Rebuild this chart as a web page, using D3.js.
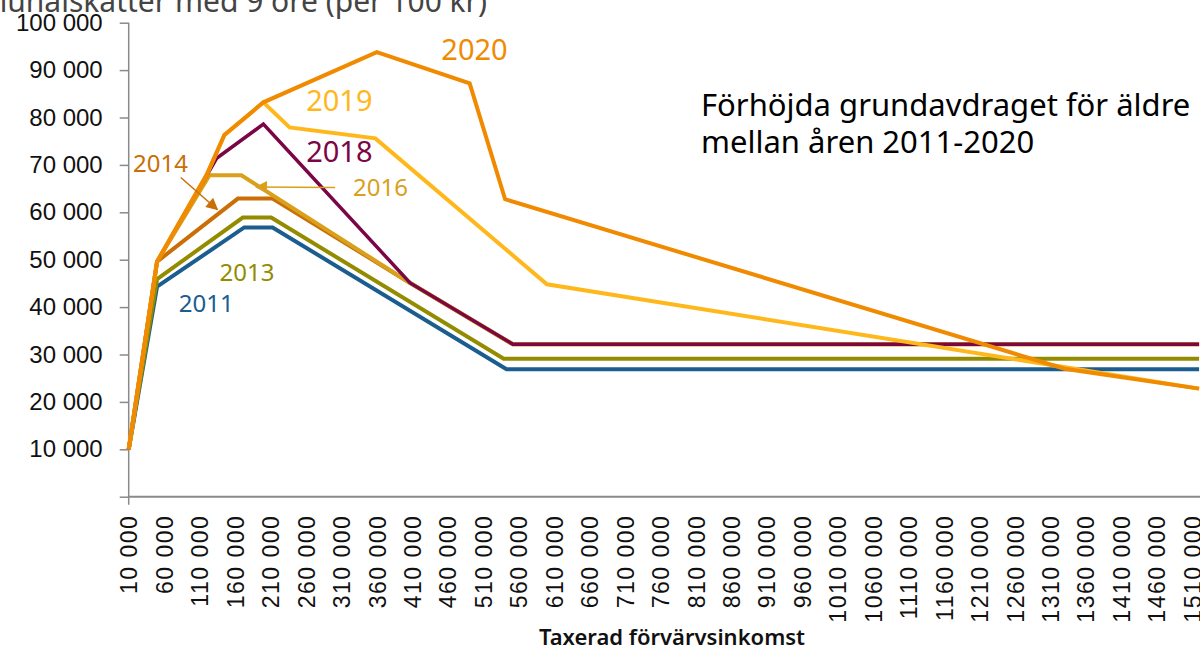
<!DOCTYPE html>
<html>
<head>
<meta charset="utf-8">
<script src="https://cdn.jsdelivr.net/npm/d3@7"></script>
<style>
  body { margin: 0; background: #fff; }
  svg { display: block; font-family: "Noto Sans", sans-serif; }
</style>
</head>
<body>
<script>
// Axis ticks
const incomeTicks = [10000, 60000, 110000, 160000, 210000, 260000, 310000, 360000, 410000, 460000,
  510000, 560000, 610000, 660000, 710000, 760000, 810000, 860000, 910000, 960000, 1010000,
  1060000, 1110000, 1160000, 1210000, 1260000, 1310000, 1360000, 1410000, 1460000, 1510000];
const valueTicks = [0, 10000, 20000, 30000, 40000, 50000, 60000, 70000, 80000, 90000, 100000];

// Series breakpoints (income, amount)
const years = ["2011", "2013", "2014", "2016", "2018", "2019", "2020"];
const inc2011 = [10000, 50000, 173000, 213000, 543000, 1520000];
const val2011 = [10000, 44300, 56800, 56800, 26900, 26900];
const inc2013 = [10000, 50000, 171000, 211000, 539000, 1520000];
const val2013 = [10000, 45900, 58900, 58900, 29100, 29100];
const inc2014 = [10000, 50000, 164000, 213000, 407000, 552000, 1520000];
const val2014 = [10000, 49600, 62900, 62900, 45100, 32150, 32150];
const inc2016 = [10000, 50000, 124000, 169000, 407000, 552000, 1520000];
const val2016 = [10000, 49600, 67800, 67800, 45100, 32150, 32150];
const inc2018 = [10000, 50000, 134000, 200000, 407000, 552000, 1520000];
const val2018 = [10000, 49600, 71400, 78600, 45100, 32150, 32150];
const inc2019 = [10000, 50000, 120000, 145000, 200000, 237000, 358000, 600000, 1520000];
const val2019 = [10000, 49600, 67900, 76300, 83200, 77900, 75600, 44800, 22800];
const inc2020 = [10000, 50000, 120000, 145000, 200000, 360000, 491000, 541000, 1330000, 1520000];
const val2020 = [10000, 49600, 67900, 76300, 83200, 93800, 87200, 62750, 27000, 22800];

const COLORS = {
  "2011": "#1a5d8e", "2013": "#938c00", "2014": "#c96f06", "2016": "#d9a01c",
  "2018": "#7a0646", "2019": "#ffb81c", "2020": "#f08a00"
};
const AXIS_COLOR = "#8a8a8a";

const W = 1200, H = 651;
const X0 = 128.7, X1 = 1192, Y0 = 496.7, Y1 = 22.7;

const svg = d3.select("body").append("svg")
  .attr("width", W).attr("height", H);

const x = d3.scaleLinear().domain([10000, 1510000]).range([X0, X1]);
const y = d3.scaleLinear().domain([0, 100000]).range([Y0, Y1]);

// "1510 000" style: only the last three digits are split off
var fmt = function(v) {
  const th = Math.floor(v / 1000);
  const rest = String(v % 1000).padStart(3, "0");
  return th > 0 ? th + " " + rest : String(v);
};

// cut-off heading at the very top
svg.append("text")
  .attr("x", 487).attr("y", 12)
  .attr("text-anchor", "end")
  .attr("font-size", 30)
  .attr("fill", "#444")
  .text("kommunalskatter med 9 öre (per 100 kr)");

// y axis
const yAxis = svg.append("g")
  .attr("transform", "translate(" + X0 + ",0)")
  .call(d3.axisLeft(y).tickValues(valueTicks).tickSize(9).tickPadding(17)
    .tickFormat(d => d === 0 ? "" : fmt(d)));
yAxis.select(".domain").attr("stroke", AXIS_COLOR).attr("stroke-width", 1.5)
  .attr("d", "M0," + Y1 + "V" + (Y0 + 8));
yAxis.selectAll(".tick line").attr("stroke", AXIS_COLOR).attr("stroke-width", 1.5);
yAxis.selectAll("text").attr("font-size", 24).attr("fill", "#111");

// x axis
const xAxis = svg.append("g")
  .attr("transform", "translate(0," + Y0 + ")")
  .call(d3.axisBottom(x).tickValues(incomeTicks).tickSize(0).tickFormat(fmt));
xAxis.select(".domain").attr("stroke", AXIS_COLOR).attr("stroke-width", 2)
  .attr("d", "M" + X0 + ",0H" + W);
xAxis.selectAll("text")
  .attr("transform", "rotate(-90)")
  .attr("text-anchor", "end")
  .attr("x", -18).attr("y", 0).attr("dy", "0.36em")
  .attr("font-size", 23).attr("letter-spacing", 1.5).attr("fill", "#111");

svg.append("text")
  .attr("x", 672).attr("y", 645)
  .attr("text-anchor", "middle")
  .attr("font-size", 22).attr("font-weight", 600).attr("fill", "#111")
  .text("Taxerad förvärvsinkomst");

// lines
const seriesData = {
  "2011": d3.zip(inc2011, val2011), "2013": d3.zip(inc2013, val2013),
  "2014": d3.zip(inc2014, val2014), "2016": d3.zip(inc2016, val2016),
  "2018": d3.zip(inc2018, val2018), "2019": d3.zip(inc2019, val2019),
  "2020": d3.zip(inc2020, val2020)
};
const line = d3.line().x(d => x(d[0])).y(d => y(d[1]));
years.forEach(function(yr) {
  svg.append("path")
    .attr("d", line(seriesData[yr]))
    .attr("fill", "none")
    .attr("stroke", COLORS[yr])
    .attr("stroke-width", yr === "2018" ? 3.5 : 4)
    .attr("stroke-linejoin", "miter");
});

// year labels (data coordinates)
const labels = [
  {yr: "2020", inc: 451000, val: 92100, size: 29},
  {yr: "2019", inc: 260400, val: 81370, size: 29},
  {yr: "2018", inc: 260400, val: 70620, size: 29},
  {yr: "2014", inc: 16000, val: 68500, size: 24},
  {yr: "2016", inc: 326400, val: 63440, size: 24},
  {yr: "2013", inc: 138200, val: 45510, size: 24},
  {yr: "2011", inc: 80650, val: 38970, size: 24}
];
svg.selectAll(".yearLabel").data(labels).enter().append("text")
  .attr("class", "yearLabel")
  .attr("x", d => x(d.inc)).attr("y", d => y(d.val))
  .attr("font-size", d => d.size)
  .attr("fill", d => COLORS[d.yr])
  .text(d => d.yr);

// arrows
const arrows = [
  {yr: "2014", from: [83450, 67340], to: [135000, 60590]},
  {yr: "2016", from: [301150, 65230], to: [189800, 65340]}
];
const defs = svg.append("defs");
arrows.forEach(function(a) {
  defs.append("marker")
    .attr("id", "head" + a.yr)
    .attr("viewBox", "0 0 10 10")
    .attr("refX", 9).attr("refY", 5)
    .attr("markerWidth", 14).attr("markerHeight", 12)
    .attr("markerUnits", "userSpaceOnUse")
    .attr("orient", "auto")
    .append("path").attr("d", "M0,0L10,5L0,10Z").attr("fill", COLORS[a.yr]);
  svg.append("line")
    .attr("x1", x(a.from[0])).attr("y1", y(a.from[1]))
    .attr("x2", x(a.to[0])).attr("y2", y(a.to[1]))
    .attr("stroke", COLORS[a.yr]).attr("stroke-width", 1.5)
    .attr("marker-end", "url(#head" + a.yr + ")");
});

// title
const title = svg.append("text")
  .attr("x", 701).attr("y", 116)
  .attr("font-size", 31).attr("fill", "#000");
title.append("tspan").attr("x", 701).text("Förhöjda grundavdraget för äldre");
title.append("tspan").attr("x", 701).attr("dy", 37).text("mellan åren 2011-2020");
</script>
</body>
</html>
